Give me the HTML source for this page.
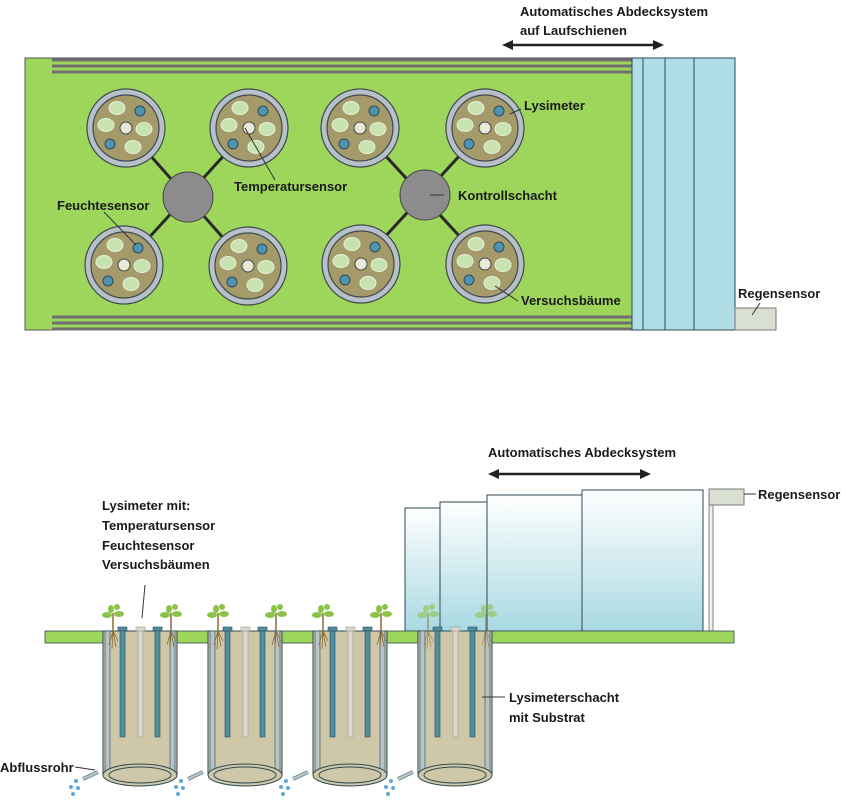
<!DOCTYPE html>
<html><head><meta charset="utf-8"><style>
body{margin:0;background:#fff;}
svg{display:block;font-family:"Liberation Sans",sans-serif;}
text{font-weight:bold;fill:#1a1a1a;font-size:13px;}
</style></head><body>
<svg width="865" height="800" viewBox="0 0 865 800" xmlns="http://www.w3.org/2000/svg">
<defs>
<linearGradient id="g" x1="0" y1="0" x2="0" y2="1"><stop offset="0" stop-color="#ffffff"/><stop offset="1" stop-color="#a9d9e2"/></linearGradient>
<g id="lys">
<circle r="39" fill="#b7bfc8" stroke="#3d4a50" stroke-width="1.2"/>
<circle r="33" fill="#a59a6a" stroke="#3d4a50" stroke-width="1.2"/>
<ellipse cx="-9" cy="-20" rx="8" ry="6.5" fill="#c9e3b0" stroke="#e6f0d8"/>
<ellipse cx="-20" cy="-3" rx="8" ry="6.5" fill="#c9e3b0" stroke="#e6f0d8"/>
<ellipse cx="18" cy="1" rx="8" ry="6.5" fill="#c9e3b0" stroke="#e6f0d8"/>
<ellipse cx="7" cy="19" rx="8" ry="6.5" fill="#c9e3b0" stroke="#e6f0d8"/>
<circle cx="0" cy="0" r="6" fill="#ebe8d6" stroke="#3d4a50"/>
<circle cx="14" cy="-17" r="5" fill="#4f93b0" stroke="#2d4a55"/>
<circle cx="-16" cy="16" r="5" fill="#4f93b0" stroke="#2d4a55"/>
</g>
<g id="tree">
<line x1="0" y1="0" x2="0" y2="-18" stroke="#8a6a30" stroke-width="1.5"/>
<ellipse cx="-6" cy="-16" rx="5" ry="3" fill="#8bc34a"/><ellipse cx="6" cy="-17" rx="5" ry="3" fill="#8bc34a"/>
<ellipse cx="-2" cy="-22" rx="3" ry="4" fill="#8bc34a"/><ellipse cx="4" cy="-24" rx="3" ry="3" fill="#8bc34a"/>
<path d="M0 0 l-4 14 M0 0 l3 16 M0 0 l-1 18 M0 0 l5 10" stroke="#8a6a30" stroke-width="0.8" fill="none"/>
</g>
<g id="tube">
<rect x="0" y="0" width="74" height="144" fill="#cfc8a8" stroke="#2d4a55"/>
<rect x="2" y="0" width="5" height="144" fill="#b7c3c8" stroke="#2d4a55" stroke-width="0.6"/>
<rect x="67" y="0" width="5" height="144" fill="#b7c3c8" stroke="#2d4a55" stroke-width="0.6"/>
<ellipse cx="37" cy="144" rx="37" ry="11" fill="#cfc8a8" stroke="#2d4a55"/>
<ellipse cx="37" cy="144" rx="31" ry="8" fill="#cfc8a8" stroke="#2d4a55"/>
<rect x="15" y="-4" width="9" height="4" fill="#4f8fa0" stroke="#2d4a55" stroke-width="0.6"/>
<rect x="17" y="0" width="5" height="106" fill="#4f8fa0" stroke="#2d4a55" stroke-width="0.6"/>
<rect x="33" y="-4" width="9" height="4" fill="#dcd8cc" stroke="#999" stroke-width="0.6"/>
<rect x="35" y="0" width="5" height="106" fill="#dcd8cc" stroke="#999" stroke-width="0.6"/>
<rect x="50" y="-4" width="9" height="4" fill="#4f8fa0" stroke="#2d4a55" stroke-width="0.6"/>
<rect x="52" y="0" width="5" height="106" fill="#4f8fa0" stroke="#2d4a55" stroke-width="0.6"/>
<line x1="-5" y1="141" x2="-20" y2="148" stroke="#5a7a85" stroke-width="4"/>
<line x1="-5" y1="141" x2="-20" y2="148" stroke="#b7c3c8" stroke-width="2.4"/>
<g fill="#5fa8d8"><circle cx="-27" cy="150" r="2"/><circle cx="-32" cy="156" r="2"/><circle cx="-25" cy="157" r="2"/><circle cx="-30" cy="163" r="2"/></g>
</g>
</defs>

<!-- TOP VIEW -->
<rect x="25" y="58" width="607" height="272" fill="#9ed65c" stroke="#555" stroke-width="1"/>
<g stroke="#6f6f6f" stroke-width="3">
<line x1="52" y1="60" x2="632" y2="60"/><line x1="52" y1="66" x2="632" y2="66"/><line x1="52" y1="72" x2="632" y2="72"/>
<line x1="52" y1="317" x2="632" y2="317"/><line x1="52" y1="323" x2="632" y2="323"/><line x1="52" y1="329" x2="632" y2="329"/>
</g>
<g stroke="#2a2a2a" stroke-width="3">
<line x1="126" y1="128" x2="248" y2="266"/><line x1="249" y1="128" x2="124" y2="265"/>
<line x1="360" y1="128" x2="485" y2="264"/><line x1="485" y1="128" x2="360" y2="264"/>
</g>
<use href="#lys" x="126" y="128"/><use href="#lys" x="249" y="128"/>
<use href="#lys" x="124" y="265"/><use href="#lys" x="248" y="266"/>
<use href="#lys" x="360" y="128"/><use href="#lys" x="485" y="128"/>
<use href="#lys" x="361" y="264"/><use href="#lys" x="485" y="264"/>
<circle cx="188" cy="197" r="25" fill="#8c8c8c" stroke="#444"/>
<circle cx="425" cy="195" r="25" fill="#8c8c8c" stroke="#444"/>
<rect x="632" y="58" width="103" height="272" fill="#b0dde6" stroke="#2d4a55"/>
<g stroke="#2d4a55"><line x1="643" y1="58" x2="643" y2="330"/><line x1="665" y1="58" x2="665" y2="330"/><line x1="694" y1="58" x2="694" y2="330"/></g>
<rect x="735" y="308" width="41" height="22" fill="#d9e0d2" stroke="#777"/>
<g stroke="#333" stroke-width="1" fill="none">
<line x1="245" y1="128" x2="275" y2="180"/>
<line x1="104" y1="212" x2="136" y2="245"/>
<line x1="430" y1="195" x2="444" y2="195"/>
<line x1="510" y1="114" x2="521" y2="109"/>
<line x1="495" y1="286" x2="518" y2="301"/>
<line x1="760" y1="303" x2="752" y2="315"/>
</g>
<text x="234" y="191">Temperatursensor</text>
<text x="57" y="210">Feuchtesensor</text>
<text x="458" y="200">Kontrollschacht</text>
<text x="524" y="110">Lysimeter</text>
<text x="521" y="305">Versuchsbäume</text>
<text x="738" y="298">Regensensor</text>
<text x="520" y="16">Automatisches Abdecksystem</text>
<text x="520" y="35">auf Laufschienen</text>
<g stroke="#222" stroke-width="2.5"><line x1="510" y1="45" x2="656" y2="45"/></g>
<path d="M502 45 L513 40 L513 50Z M664 45 L653 40 L653 50Z" fill="#222"/>

<!-- SIDE VIEW -->
<text x="488" y="457">Automatisches Abdecksystem</text>
<g stroke="#222" stroke-width="2.5"><line x1="496" y1="474" x2="643" y2="474"/></g>
<path d="M488 474 L499 469 L499 479Z M651 474 L640 469 L640 479Z" fill="#222"/>
<rect x="405" y="508" width="35" height="123" fill="url(#g)" stroke="#2d4a55"/>
<rect x="440" y="502" width="47" height="129" fill="url(#g)" stroke="#2d4a55"/>
<rect x="487" y="495" width="95" height="136" fill="url(#g)" stroke="#2d4a55"/>
<rect x="582" y="490" width="121" height="141" fill="url(#g)" stroke="#2d4a55"/>
<rect x="709" y="505" width="4" height="126" fill="#eee" stroke="#555" stroke-width="0.7"/>
<rect x="709" y="489" width="35" height="16" fill="#d9e0d2" stroke="#777"/>
<line x1="744" y1="494" x2="756" y2="494" stroke="#333"/>
<text x="758" y="499">Regensensor</text>
<rect x="45" y="631" width="689" height="12" fill="#9ed65c" stroke="#2d4a55" stroke-width="0.8"/>
<use href="#tube" x="103" y="631"/><use href="#tube" x="208" y="631"/>
<use href="#tube" x="313" y="631"/><use href="#tube" x="418" y="631"/>
<use href="#tube" x="103" y="631" style="display:none"/>
<use href="#tree" x="113" y="631"/><use href="#tree" x="171" y="631"/>
<use href="#tree" x="218" y="631"/><use href="#tree" x="276" y="631"/>
<use href="#tree" x="323" y="631"/><use href="#tree" x="381" y="631"/>
<use href="#tree" x="428" y="631" opacity="0.6"/><use href="#tree" x="486" y="631" opacity="0.6"/>
<line x1="142" y1="618" x2="145" y2="585" stroke="#333"/>
<text x="102" y="510">Lysimeter mit:</text>
<text x="102" y="530">Temperatursensor</text>
<text x="102" y="550">Feuchtesensor</text>
<text x="102" y="569">Versuchsbäumen</text>
<line x1="482" y1="697" x2="505" y2="697" stroke="#333"/>
<text x="509" y="702">Lysimeterschacht</text>
<text x="509" y="722">mit Substrat</text>
<text x="0" y="772">Abflussrohr</text>
<line x1="75" y1="767" x2="95" y2="770" stroke="#333"/>
</svg>
</body></html>
